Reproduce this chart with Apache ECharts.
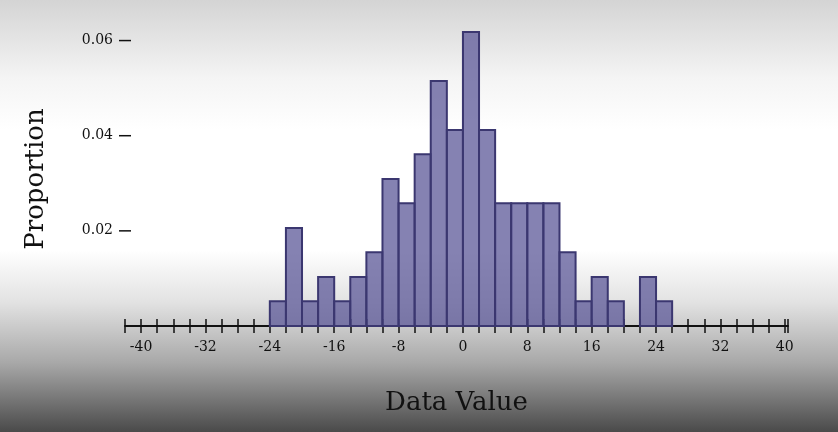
<!DOCTYPE html>
<html>
<head>
<meta charset="utf-8">
<script src="https://cdn.jsdelivr.net/npm/echarts@6/dist/echarts.min.js"></script>
<style>
  html, body { margin: 0; padding: 0; }
  body {
    width: 838px; height: 432px;
    background: linear-gradient(to bottom, #d4d4d4 0%, #f4f4f4 18%, #ffffff 30%, #ffffff 58%, #e2e2e2 70%, #a8a8a8 84%, #4a4a4a 100%);
  }
  #chart { width: 838px; height: 432px; }
</style>
</head>
<body>
<div id="chart"></div>
<script>
// bins of width 2, by left edge
const binStarts = [-24, -22, -20, -18, -16, -14, -12, -10, -8, -6, -4, -2, 0, 2, 4, 6, 8, 10, 12, 14, 16, 18, 20, 22, 24];
const proportions = [0.0052, 0.0206, 0.0052, 0.0103, 0.0052, 0.0103, 0.0155, 0.0309, 0.0258, 0.0361, 0.0515, 0.0412, 0.0618, 0.0412, 0.0258, 0.0258, 0.0258, 0.0258, 0.0155, 0.0052, 0.0103, 0.0052, 0, 0.0103, 0.0052];
const binWidth = 2;
const yTicks = [0.02, 0.04, 0.06];

const font = '"DejaVu Serif", "Liberation Serif", serif';
const chart = echarts.init(document.getElementById('chart'), null, { renderer: 'canvas' });

const data = binStarts.map((s, i) => [s, s + binWidth, proportions[i]]);

const tickAxis = (inside, showLine) => ({
  type: 'value', min: -42, max: 40.4, interval: 2,
  axisLine: { show: showLine, onZero: false, lineStyle: { color: '#111', width: 2 } },
  axisTick: { show: true, inside: inside, length: 7, lineStyle: { color: '#111', width: 1.5 } },
  axisLabel: {
    show: !inside, margin: 14, fontFamily: font, fontSize: 14, color: '#111',
    formatter: v => (v % 8 === 0 && v >= -40 && v <= 40) ? String(v) : ''
  },
  splitLine: { show: false }
});

chart.setOption({
  backgroundColor: 'transparent',
  animation: false,
  grid: { left: 125, right: 50, top: 32, bottom: 106 },
  xAxis: [
    Object.assign(tickAxis(false, true), {
      name: 'Data Value', nameLocation: 'middle', nameGap: 64,
      nameTextStyle: { fontFamily: font, fontSize: 26, color: '#111' }
    }),
    Object.assign(tickAxis(true, false), { position: 'bottom' })
  ],
  yAxis: {
    type: 'value', min: 0, max: 0.0618,
    axisLine: { show: true, lineStyle: { color: '#111', width: 2 } },
    axisTick: { show: false },
    axisLabel: {
      margin: 12, fontFamily: font, fontSize: 14, color: '#111',
      formatter: v => yTicks.some(t => Math.abs(t - v) < 1e-9) ? v.toFixed(2) : ''
    },
    interval: 0.02,
    splitLine: { show: false },
    name: 'Proportion', nameLocation: 'middle', nameGap: 76, nameRotate: 90,
    nameTextStyle: { fontFamily: font, fontSize: 26, color: '#111' }
  },
  series: [
    {
      type: 'custom',
      xAxisIndex: 0,
      data: data,
      renderItem: (params, api) => {
        const p0 = api.coord([api.value(0), api.value(2)]);
        const p1 = api.coord([api.value(1), 0]);
        if (api.value(2) <= 0) return;
        return {
          type: 'rect',
          shape: { x: p0[0], y: p0[1], width: p1[0] - p0[0], height: p1[1] - p0[1] },
          style: { fill: 'rgba(92,88,152,0.75)', stroke: '#3b3770', lineWidth: 2 }
        };
      }
    },
    {
      // crossing ticks on y axis
      type: 'custom',
      data: yTicks,
      renderItem: (params, api) => {
        const p = api.coord([-42, api.value(0)]);
        return {
          type: 'line',
          shape: { x1: p[0] - 6, y1: p[1], x2: p[0] + 6, y2: p[1] },
          style: { stroke: '#111', lineWidth: 1.5 }
        };
      }
    }
  ]
});
</script>
</body>
</html>
